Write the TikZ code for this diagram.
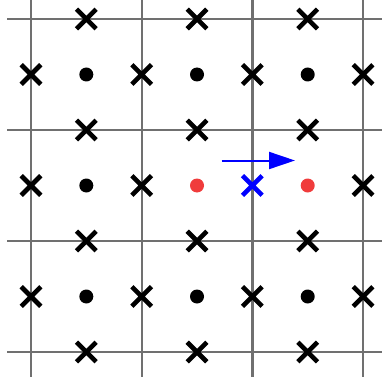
\documentclass[tikz,border=0pt]{standalone}
\usetikzlibrary{shapes.misc,arrows.meta}
\definecolor{gridgray}{RGB}{112,112,112}
\definecolor{dotred}{RGB}{240,60,60}
\tikzset{
  gridline/.style={draw=gridgray,line width=2.4pt},
  xmark/.style={cross out,draw=black,line width=4.6pt,minimum size=15pt,inner sep=0pt},
  bluexmark/.style={xmark,draw=blue},
  site/.style={circle,fill=black,minimum size=14pt,inner sep=0pt},
  redsite/.style={site,fill=dotred},
  shiftarrow/.style={draw=blue,line width=2pt,-{Triangle[length=26pt,width=17pt]}}
}
\begin{document}
\begin{tikzpicture}[x=1pt,y=-1pt]
\useasboundingbox (0,0) rectangle (382,385);
% grid
\foreach \yy [count=\k] in {19,130,241,352}
  \draw[gridline] (7,\yy) -- (382,\yy);
\foreach \xx [count=\k] in {31,141.7,252.3,363}
  \draw[gridline] (\xx,0) -- (\xx,377);
% crosses on horizontal lines
\foreach \xx [count=\i] in {86.3,197,307.7}
  \foreach \yy [count=\j] in {19,130,241,352}
    \node[xmark] (h-\i-\j) at (\xx,\yy) {};
% crosses on vertical lines
\foreach \xx [count=\i] in {31,141.7,252.3,363}
  \foreach \yy [count=\j] in {74.5,296.5}
    \node[xmark] (v-\i-\j) at (\xx,\yy) {};
\node[xmark] (vm-1) at (31,185.5) {};
\node[xmark] (vm-2) at (141.7,185.5) {};
\node[bluexmark] (vm-3) at (252.3,185.5) {};
\node[xmark] (vm-4) at (363,185.5) {};
% dots
\foreach \xx [count=\i] in {86.3,197,307.7}
  \foreach \yy [count=\j] in {74.5,296.5}
    \node[site] (d-\i-\j) at (\xx,\yy) {};
\node[site] (dm-1) at (86.3,185.5) {};
\node[redsite] (dm-2) at (197,185.5) {};
\node[redsite] (dm-3) at (307.7,185.5) {};
% arrow
\coordinate (as) at (221.5,160.5);
\coordinate (ae) at (295,160.5);
\draw[shiftarrow] (as) -- (ae);
\end{tikzpicture}
\end{document}
